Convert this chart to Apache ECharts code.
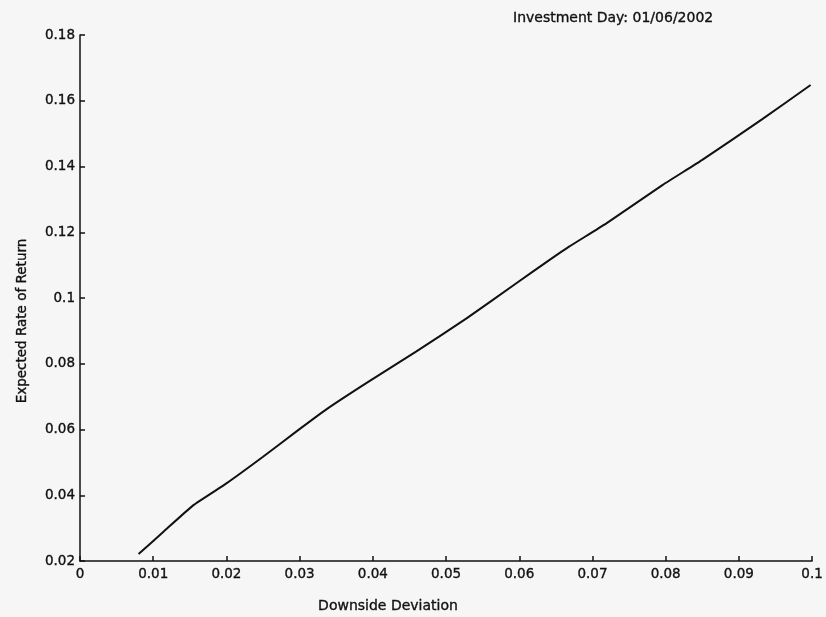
<!DOCTYPE html>
<html>
<head>
<meta charset="utf-8">
<script src="https://cdn.jsdelivr.net/npm/echarts@6/dist/echarts.min.js"></script>
<style>
  html, body { margin: 0; padding: 0; background: #f6f6f6; }
  #chart { width: 826px; height: 617px; }
</style>
</head>
<body>
<div id="chart"></div>
<script>
// Efficient frontier: downside deviation vs expected rate of return
const downsideDeviation = [0.0080, 0.0114, 0.0155, 0.0200, 0.0250, 0.0298, 0.0337,
  0.0391, 0.0459, 0.0528, 0.0596, 0.0641, 0.0668, 0.0719, 0.0796, 0.0850, 0.0932, 0.0998];
const expectedReturn = [0.0221, 0.0289, 0.0370, 0.0436, 0.0517, 0.0598, 0.0662,
  0.0741, 0.0837, 0.0938, 0.1045, 0.1115, 0.1156, 0.1227, 0.1344, 0.1420, 0.1544, 0.1648];

const titleText = 'Investment Day: 01/06/2002';
const xName = 'Downside Deviation';
const yName = 'Expected Rate of Return';

const points = downsideDeviation.map((x, i) => [x, expectedReturn[i]]);

const font = '"DejaVu Sans", Arial, Helvetica, sans-serif';
const ink = '#111';

const labelStyle = {
  color: ink, fontSize: 13.5, fontFamily: font,
  textBorderColor: ink, textBorderWidth: 0.35
};

const chart = echarts.init(document.getElementById('chart'), null, { renderer: 'canvas' });
chart.setOption({
  backgroundColor: '#f6f6f6',
  animation: false,
  grid: { left: 80, right: 13, top: 35, bottom: 56, containLabel: false },
  xAxis: {
    type: 'value',
    min: 0, max: 0.1, interval: 0.01,
    axisLine: { show: true, lineStyle: { color: ink, width: 1.5 } },
    axisTick: { show: true, inside: true, length: 5, lineStyle: { color: ink, width: 1.5 } },
    axisLabel: Object.assign({ margin: 6 }, labelStyle),
    splitLine: { show: false }
  },
  yAxis: {
    type: 'value',
    min: 0.02, max: 0.18, interval: 0.02,
    axisLine: { show: true, lineStyle: { color: ink, width: 1.5 } },
    axisTick: { show: true, inside: true, length: 5, lineStyle: { color: ink, width: 1.5 } },
    axisLabel: Object.assign({ margin: 5 }, labelStyle),
    splitLine: { show: false }
  },
  graphic: [
    { type: 'text', x: 513, y: 18,
      style: { text: titleText, fill: ink, stroke: ink, lineWidth: 0.35,
               font: '14px ' + font, textVerticalAlign: 'middle' } },
    { type: 'text', x: 388, y: 606,
      style: { text: xName, fill: ink, stroke: ink, lineWidth: 0.35,
               font: '14px ' + font, textAlign: 'center', textVerticalAlign: 'middle' } },
    { type: 'text', x: 22, y: 321, rotation: Math.PI / 2,
      style: { text: yName, fill: ink, stroke: ink, lineWidth: 0.35,
               font: '13.5px ' + font, textAlign: 'center', textVerticalAlign: 'middle' } }
  ],
  series: [{
    type: 'line',
    data: points,
    showSymbol: false,
    smooth: 0.15,
    lineStyle: { color: '#111', width: 2 }
  }]
});
</script>
</body>
</html>
